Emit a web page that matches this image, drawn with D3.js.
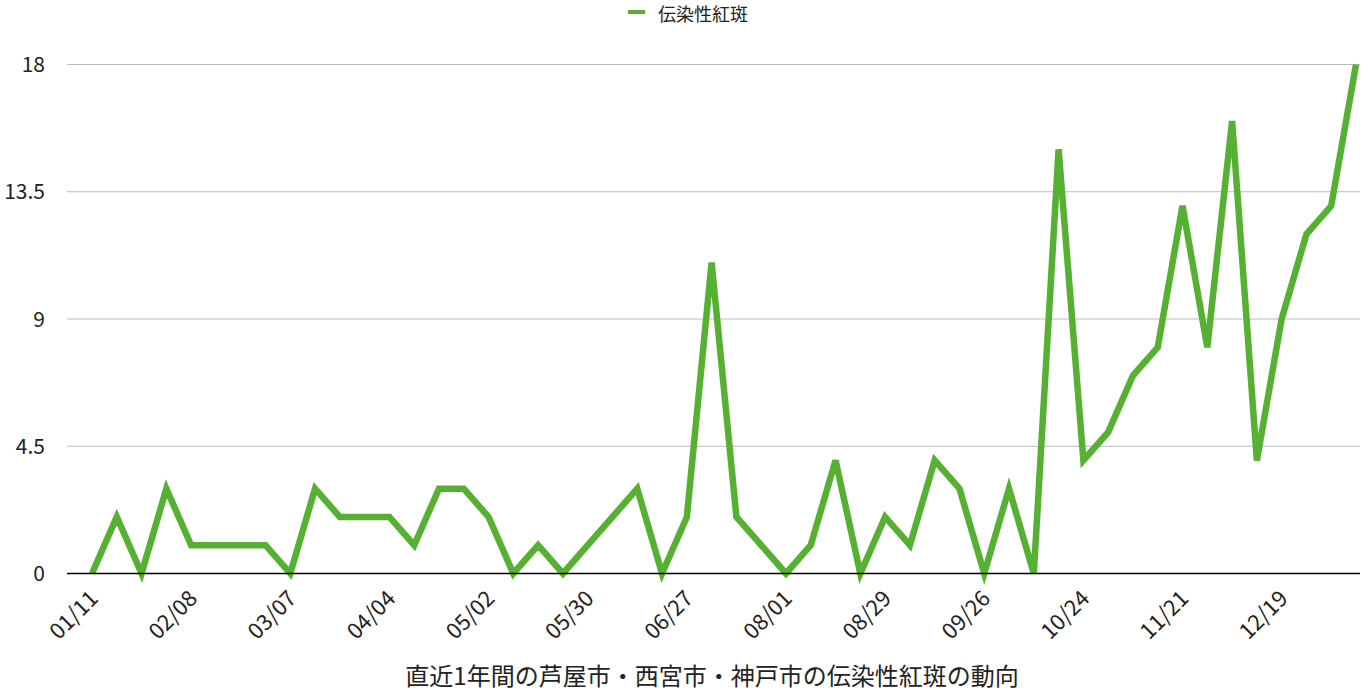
<!DOCTYPE html>
<html><head><meta charset="utf-8">
<script src="https://cdn.jsdelivr.net/npm/d3@7"></script>
<style>body{margin:0;background:#fff;} text{font-family:"Noto Sans CJK JP","Noto Sans",sans-serif;}</style>
</head><body>
<svg id="c" width="1364" height="698"></svg>
<script>
const weeks = Array.from({length:52},(_,i)=>"w"+i);
const tickLabels = ["01/11","02/08","03/07","04/04","05/02","05/30","06/27","08/01","08/29","09/26","10/24","11/21","12/19"];
const values = [0,2,0,3,1,1,1,1,0,3,2,2,2,1,3,3,2,0,1,0,1,2,3,0,2,11,2,1,0,1,4,0,2,1,4,3,0,3,0,15,4,5,7,8,13,8,16,4,9,12,13,18];
const yTicks = [0,4.5,9,13.5,18];
const seriesName = "伝染性紅斑";
const title = "直近1年間の芦屋市・西宮市・神戸市の伝染性紅斑の動向";

const svg = d3.select("#c");
const x = d3.scalePoint().domain(weeks).range([92,1356]);
const y = d3.scaleLinear().domain([0,18]).range([573.5,64.5]);
const color = "#56b031";

svg.append("g").selectAll("line").data(yTicks.filter(d=>d>0)).join("line")
  .attr("x1",67).attr("x2",1360).attr("y1",d=>y(d)).attr("y2",d=>y(d))
  .attr("stroke","#bbbbbb").attr("stroke-width",1);
svg.append("g").selectAll("text").data(yTicks).join("text")
  .attr("x",45).attr("y",d=>y(d)).attr("dy","0.36em").attr("text-anchor","end")
  .attr("font-family","'Noto Sans',sans-serif")
  .attr("font-size",21).attr("fill","#222").text(d=>d);

svg.append("path").datum(values)
  .attr("d", d3.line().x((d,i)=>x(weeks[i])).y(d=>y(d)))
  .attr("fill","none").attr("stroke",color).attr("stroke-width",6.5).attr("stroke-linejoin","miter");

svg.append("line").attr("x1",67).attr("x2",1360).attr("y1",y(0)).attr("y2",y(0))
  .attr("stroke","#000").attr("stroke-width",1.5);

svg.append("g").selectAll("text").data(tickLabels).join("text")
  .attr("transform",(d,i)=>`translate(${x(weeks[i*4])+2},${y(0)+21}) rotate(-45)`)
  .attr("text-anchor","end").attr("dy","0.35em")
  .attr("font-family","'Noto Sans',sans-serif")
  .attr("font-size",22).attr("fill","#222").text(d=>d);

svg.append("line").attr("x1",628).attr("x2",645).attr("y1",12).attr("y2",12)
  .attr("stroke",color).attr("stroke-width",4);
svg.append("text").attr("x",658).attr("y",21)
  .attr("font-size",18).attr("fill","#222").text(seriesName);

svg.append("text").attr("x",712).attr("y",676).attr("dy","0.36em").attr("text-anchor","middle")
  .attr("font-size",24).attr("fill","#222").text(title);
</script>
</body></html>
